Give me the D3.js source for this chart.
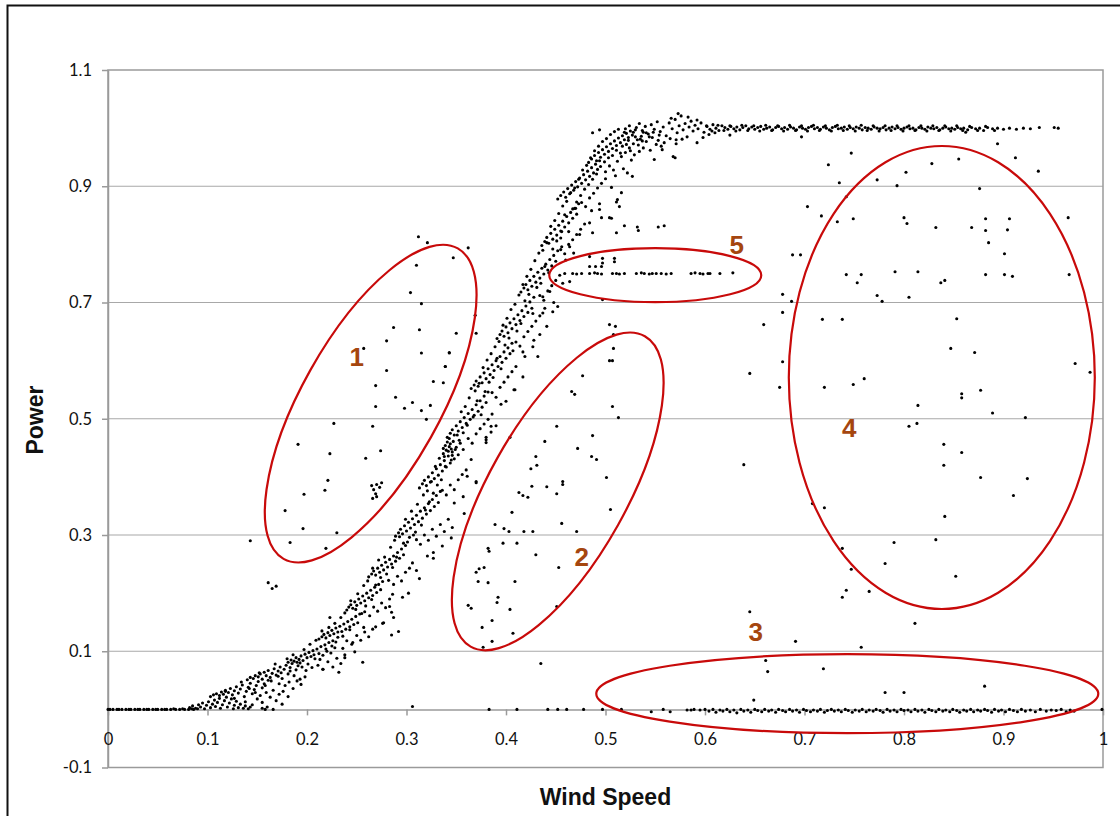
<!DOCTYPE html>
<html>
<head>
<meta charset="utf-8">
<script src="https://cdn.jsdelivr.net/npm/d3@7"></script>
<style>
  body { margin: 0; background: #fff; }
</style>
</head>
<body>
<div id="vis"></div>
<script>
const FRAME_WIDTH = 1120;
const FRAME_HEIGHT = 816;
const PLOT = {left: 108, right: 1103, top: 70, bottom: 767.5};

// tick values
const xTicks = [0, 0.1, 0.2, 0.3, 0.4, 0.5, 0.6, 0.7, 0.8, 0.9, 1];
const yTicks = [-0.1, 0.1, 0.3, 0.5, 0.7, 0.9, 1.1];

// [wind speed, power]
const zeroLeft = [[0,0],[0.002,0],[0.005,0],[0.009,0],[0.011,0],[0.014,0],[0.018,0],[0.021,0],[0.023,0],[0.027,0],[0.03,0],[0.032,0],[0.036,0],[0.039,0],[0.041,0],[0.045,0],[0.048,0],[0.05,0],[0.054,0],[0.057,0],[0.059,0],[0.063,0],[0.066,0.001],[0.068,0],[0.072,0],[0.075,0.001],[0.077,0],[0.081,0],[0.084,0.001],[0.086,0],[0.09,0.001]];

const rampLow = [
  [0.082,0.003],[0.085,0.006],[0.088,0.002],[0.091,0.008],[0.093,0.004],[0.095,0.011],[0.097,0.001],[0.099,0.007],[0.101,0.013],[0.103,0.003],[0.105,0.009],[0.107,0.016],[0.108,0.005],[0.11,0.012],[0.112,0.019],[0.113,0.002],[0.115,0.008],[0.117,0.015],[0.119,0.021],[0.12,0.004],[0.122,0.011],[0.124,0.018],[0.126,0.001],[0.127,0.007],[0.129,0.014],[0.131,0.003],[0.133,0.009],[0.136,0.002],[0.138,0.006],[0.141,0.001],[0.143,0.004],
  [0.103,0.022],[0.106,0.025],[0.109,0.027],[0.112,0.024],[0.114,0.03],[0.116,0.026],[0.118,0.033],[0.121,0.029],[0.123,0.036],[0.125,0.025],[0.127,0.032],[0.129,0.039],[0.131,0.028],[0.133,0.035],[0.135,0.042],[0.137,0.022],[0.139,0.031],[0.141,0.038],[0.143,0.045],[0.145,0.027],[0.147,0.034],[0.149,0.041],[0.151,0.048],[0.153,0.024],[0.155,0.037],[0.157,0.044],[0.159,0.029],[0.161,0.05],[0.163,0.021],[0.166,0.033],[0.169,0.015],[0.172,0.026],[0.155,0.012],[0.16,0.004],[0.138,0.013],[0.145,0.008],[0.15,0.018],
  [0.14,0.051],[0.143,0.055],[0.146,0.053],[0.148,0.058],[0.151,0.056],[0.153,0.061],[0.155,0.052],[0.157,0.064],[0.159,0.058],[0.161,0.067],[0.163,0.055],[0.165,0.062],[0.167,0.07],[0.169,0.059],[0.171,0.066],[0.173,0.073],[0.175,0.053],[0.177,0.069],[0.179,0.076],[0.181,0.061],[0.183,0.072],[0.185,0.079],[0.187,0.058],[0.189,0.068],[0.191,0.075],[0.193,0.08],[0.178,0.041],[0.182,0.047],[0.186,0.036],[0.19,0.049],[0.194,0.043],[0.198,0.056],[0.172,0.044],[0.176,0.031],[0.181,0.022],
  [0.181,0.081],[0.184,0.085],[0.187,0.083],[0.189,0.089],[0.192,0.086],[0.194,0.092],[0.196,0.084],[0.198,0.095],[0.2,0.089],[0.202,0.098],[0.204,0.091],[0.206,0.101],[0.208,0.087],[0.21,0.104],[0.212,0.096],[0.214,0.108],[0.216,0.093],[0.218,0.111],[0.22,0.1],[0.222,0.115],[0.224,0.097],[0.226,0.118],[0.228,0.106],[0.211,0.076],[0.216,0.069],[0.221,0.082],[0.226,0.073],[0.23,0.088],[0.234,0.079],[0.238,0.094],[0.205,0.072],[0.199,0.067],[0.232,0.064]
];

const rampMid = [
  [0.212,0.121],[0.215,0.125],[0.217,0.129],[0.219,0.123],[0.221,0.132],[0.223,0.127],[0.225,0.136],[0.227,0.13],[0.229,0.14],[0.231,0.124],[0.233,0.143],[0.235,0.134],[0.237,0.147],[0.239,0.138],[0.241,0.151],[0.243,0.142],[0.245,0.155],[0.247,0.146],[0.249,0.16],[0.251,0.149],[0.253,0.164],[0.24,0.118],[0.245,0.112],[0.25,0.127],[0.254,0.119],[0.258,0.133],[0.262,0.125],[0.236,0.105],[0.248,0.099],[0.229,0.116],
  [0.24,0.171],[0.242,0.176],[0.244,0.18],[0.246,0.174],[0.248,0.185],[0.25,0.179],[0.252,0.19],[0.254,0.183],[0.256,0.195],[0.258,0.187],[0.26,0.2],[0.262,0.192],[0.264,0.205],[0.266,0.196],[0.268,0.21],[0.27,0.201],[0.272,0.215],[0.274,0.206],[0.276,0.22],[0.258,0.168],[0.263,0.161],[0.267,0.176],[0.271,0.169],[0.275,0.183],[0.279,0.175],[0.283,0.19],[0.287,0.158],[0.277,0.149],[0.269,0.142],[0.285,0.128],[0.292,0.134],
  [0.262,0.228],[0.265,0.233],[0.267,0.238],[0.269,0.231],[0.271,0.243],[0.273,0.236],[0.275,0.248],[0.277,0.24],[0.279,0.253],[0.281,0.245],[0.283,0.258],[0.285,0.25],[0.287,0.264],[0.289,0.255],[0.291,0.27],[0.293,0.26],[0.295,0.276],[0.297,0.266],[0.299,0.282],[0.282,0.222],[0.287,0.215],[0.291,0.229],[0.295,0.221],[0.299,0.236],[0.303,0.243],[0.306,0.252],[0.31,0.239],[0.302,0.2],[0.296,0.193],[0.313,0.225],
  [0.289,0.298],[0.292,0.304],[0.294,0.31],[0.296,0.302],[0.298,0.316],[0.3,0.307],[0.302,0.322],[0.304,0.312],[0.306,0.328],[0.308,0.318],[0.31,0.334],[0.312,0.323],[0.314,0.341],[0.316,0.329],[0.318,0.347],[0.32,0.336],[0.322,0.354],[0.324,0.342],[0.326,0.361],[0.328,0.349],[0.33,0.368],[0.332,0.356],[0.334,0.375],[0.31,0.292],[0.314,0.284],[0.318,0.3],[0.322,0.291],[0.326,0.31],[0.33,0.298],[0.334,0.318],[0.338,0.306],[0.342,0.327],[0.327,0.27],[0.336,0.281],[0.345,0.295],[0.321,0.264],[0.301,0.288],[0.307,0.3],
  [0.313,0.381],[0.316,0.388],[0.318,0.394],[0.32,0.385],[0.322,0.4],[0.324,0.391],[0.326,0.407],[0.328,0.397],[0.33,0.414],[0.332,0.403],[0.334,0.421],[0.336,0.41],[0.338,0.428],[0.34,0.417],[0.342,0.436],[0.344,0.424],[0.346,0.443],[0.348,0.431],[0.35,0.451],[0.352,0.438],[0.354,0.458],[0.336,0.377],[0.34,0.369],[0.344,0.386],[0.348,0.378],[0.352,0.395],[0.356,0.404],[0.36,0.412],[0.348,0.355],[0.357,0.366],[0.34,0.446],[0.337,0.44],[0.343,0.452],[0.345,0.448],[0.341,0.46],[0.339,0.454],[0.342,0.444],[0.344,0.457],[0.346,0.437],[0.338,0.435],
  [0.341,0.468],[0.344,0.475],[0.346,0.481],[0.348,0.472],[0.35,0.488],[0.352,0.479],[0.354,0.495],[0.356,0.485],[0.358,0.502],[0.36,0.492],[0.362,0.509],[0.364,0.499],[0.366,0.516],[0.368,0.506],[0.37,0.524],[0.372,0.513],[0.374,0.531],[0.376,0.52],[0.378,0.539],[0.38,0.528],[0.382,0.546],[0.362,0.466],[0.366,0.458],[0.37,0.474],[0.374,0.483],[0.378,0.491],[0.382,0.499],[0.386,0.508],[0.357,0.447],[0.365,0.43],[0.385,0.477],[0.39,0.488]
];

const rampHigh = [
  [0.365,0.552],[0.368,0.558],[0.37,0.565],[0.372,0.556],[0.374,0.572],[0.376,0.562],[0.378,0.579],[0.38,0.569],[0.382,0.586],[0.384,0.576],[0.386,0.593],[0.388,0.583],[0.39,0.6],[0.392,0.59],[0.394,0.607],[0.396,0.597],[0.398,0.615],[0.4,0.604],[0.402,0.622],[0.404,0.612],[0.406,0.63],[0.386,0.545],[0.39,0.537],[0.394,0.554],[0.398,0.563],[0.402,0.572],[0.406,0.581],[0.41,0.59],[0.395,0.525],[0.408,0.55],
  [0.391,0.638],[0.394,0.645],[0.396,0.651],[0.398,0.642],[0.4,0.658],[0.402,0.648],[0.404,0.665],[0.406,0.655],[0.408,0.672],[0.41,0.662],[0.412,0.679],[0.414,0.669],[0.416,0.686],[0.418,0.676],[0.42,0.694],[0.422,0.683],[0.424,0.701],[0.426,0.69],[0.428,0.709],[0.41,0.632],[0.414,0.625],[0.418,0.641],[0.422,0.65],[0.426,0.659],[0.43,0.668],[0.434,0.677],[0.417,0.615],[0.428,0.635],
  [0.415,0.718],[0.418,0.725],[0.42,0.731],[0.422,0.722],[0.424,0.738],[0.426,0.728],[0.428,0.745],[0.43,0.735],[0.432,0.752],[0.434,0.742],[0.436,0.759],[0.438,0.749],[0.44,0.766],[0.442,0.756],[0.444,0.774],[0.446,0.763],[0.448,0.781],[0.45,0.771],[0.452,0.789],[0.434,0.712],[0.438,0.704],[0.442,0.72],[0.446,0.729],[0.45,0.738],[0.454,0.747],[0.439,0.69],[0.448,0.7],
  [0.436,0.798],[0.439,0.805],[0.441,0.812],[0.443,0.802],[0.445,0.819],[0.447,0.809],[0.449,0.826],[0.451,0.816],[0.453,0.833],[0.455,0.823],[0.457,0.84],[0.459,0.83],[0.461,0.848],[0.463,0.837],[0.465,0.855],[0.467,0.845],[0.469,0.862],[0.471,0.852],[0.473,0.87],[0.455,0.791],[0.459,0.784],[0.463,0.8],[0.467,0.808],[0.471,0.817],[0.475,0.826],[0.479,0.835],[0.46,0.773],[0.468,0.785],
  [0.452,0.878],[0.455,0.884],[0.458,0.89],[0.46,0.881],[0.462,0.896],[0.464,0.887],[0.466,0.902],[0.468,0.893],[0.47,0.908],[0.472,0.899],[0.474,0.914],[0.476,0.905],[0.478,0.92],[0.48,0.911],[0.482,0.926],[0.484,0.917],[0.486,0.932],[0.488,0.923],[0.49,0.938],[0.492,0.929],[0.494,0.944],[0.476,0.872],[0.48,0.865],[0.484,0.88],[0.488,0.888],[0.492,0.897],[0.496,0.905],[0.5,0.913],[0.486,0.858],[0.494,0.87],[0.47,0.862],
  [0.483,0.941],[0.486,0.947],[0.489,0.953],[0.491,0.944],[0.493,0.958],[0.495,0.95],[0.497,0.963],[0.499,0.955],[0.501,0.968],[0.503,0.96],[0.505,0.973],[0.507,0.965],[0.509,0.978],[0.511,0.97],[0.513,0.983],[0.515,0.975],[0.517,0.987],[0.519,0.98],[0.521,0.991],[0.523,0.984],[0.525,0.995],[0.527,0.988],[0.504,0.935],[0.508,0.928],[0.512,0.943],[0.516,0.951],[0.52,0.958],[0.524,0.966],[0.528,0.973],[0.532,0.98],[0.536,0.986],[0.51,0.918],[0.518,0.93],[0.526,0.945],[0.534,0.96],[0.5,0.925],[0.487,0.992],[0.494,0.997],[0.53,0.997],[0.538,0.993]
];

// more points in the band, between the rows above
const rampExtra = [[0.118,0.031],[0.127,0.019],[0.134,0.047],[0.142,0.036],[0.148,0.029],[0.152,0.063],[0.158,0.041],[0.164,0.049],[0.168,0.078],[0.171,0.057],[0.174,0.063],[0.18,0.087],[0.183,0.066],[0.186,0.094],[0.19,0.081],[0.195,0.073],[0.197,0.103],[0.201,0.078],[0.203,0.112],[0.207,0.094],[0.209,0.119],[0.213,0.086],[0.215,0.135],[0.219,0.104],[0.222,0.141],[0.225,0.109],[0.228,0.148],[0.231,0.133],[0.234,0.158],[0.236,0.126],[0.238,0.166],[0.243,0.137],[0.244,0.187],[0.249,0.172],[0.251,0.199],[0.255,0.165],[0.257,0.213],[0.259,0.178],[0.261,0.221],[0.265,0.189],[0.266,0.243],[0.269,0.214],[0.272,0.257],[0.274,0.227],[0.278,0.262],[0.28,0.233],[0.284,0.279],[0.286,0.244],[0.288,0.291],[0.29,0.262],[0.293,0.297],[0.297,0.286],[0.299,0.327],[0.303,0.296],[0.305,0.341],[0.309,0.305],[0.311,0.353],[0.315,0.317],[0.317,0.369],[0.319,0.343],[0.321,0.376],[0.323,0.357],[0.325,0.392],[0.327,0.372],[0.329,0.418],[0.331,0.386],[0.333,0.432],[0.335,0.395],[0.337,0.449],[0.339,0.418],[0.343,0.466],[0.345,0.429],[0.347,0.461],[0.349,0.447],[0.351,0.472],[0.353,0.463],[0.355,0.512],[0.357,0.476],[0.359,0.521],[0.361,0.489],[0.363,0.536],[0.367,0.503],[0.369,0.548],[0.371,0.531],[0.373,0.561],[0.375,0.507],[0.377,0.588],[0.379,0.547],[0.381,0.601],[0.383,0.563],[0.385,0.612],[0.387,0.571],[0.389,0.624],[0.391,0.604],[0.393,0.633],[0.395,0.586],[0.397,0.661],[0.399,0.627],[0.401,0.673],[0.403,0.639],[0.405,0.688],[0.407,0.617],[0.409,0.697],[0.411,0.651],[0.413,0.713],[0.415,0.664],[0.417,0.731],[0.419,0.703],[0.421,0.745],[0.423,0.714],[0.425,0.757],[0.427,0.681],[0.429,0.772],[0.431,0.726],[0.433,0.785],[0.435,0.733],[0.437,0.79],[0.439,0.762],[0.441,0.803],[0.443,0.751],[0.445,0.831],[0.447,0.792],[0.449,0.841],[0.451,0.806],[0.453,0.853],[0.455,0.811],[0.457,0.866],[0.459,0.851],[0.461,0.874],[0.463,0.822],[0.465,0.889],[0.467,0.861],[0.469,0.897],[0.471,0.873],[0.473,0.912],[0.475,0.884],[0.477,0.928],[0.479,0.895],[0.481,0.936],[0.483,0.903],[0.485,0.949],[0.487,0.912],[0.489,0.961],[0.491,0.921],[0.493,0.969],[0.495,0.934],[0.497,0.977],[0.499,0.942],[0.501,0.982],[0.503,0.949],[0.505,0.989],[0.507,0.953],[0.509,0.994],[0.511,0.962],[0.513,0.998],[0.515,0.957],[0.517,0.969],[0.519,0.993],[0.521,0.972],[0.523,0.979],[0.525,0.961],[0.529,0.954],[0.533,0.971],[0.537,0.978],[0.541,0.992],[0.544,0.985],[0.548,0.993],[0.551,0.972],[0.554,0.988]];

const plateau = [
  [0.52,0.999],[0.524,1.004],[0.528,0.993],[0.531,1.001],[0.534,1.008],[0.537,0.996],[0.54,1.003],[0.543,0.99],[0.546,1.006],[0.549,0.998],[0.552,1.011],[0.555,0.994],[0.558,1.002],[0.561,0.987],[0.564,1.009],[0.567,0.999],[0.57,1.015],[0.572,0.992],[0.574,1.004],[0.576,1.021],[0.578,0.997],[0.58,1.008],[0.582,0.985],[0.584,1.002],[0.586,1.012],[0.588,0.995],[0.59,1.005],[0.593,0.999],[0.596,1.009],[0.599,0.993],[0.602,1.003],[0.605,0.998],[0.608,1.006],[0.611,1.0],[0.614,0.996],[0.617,1.004],[0.62,1.001],[0.623,0.998],[0.626,1.003],[0.629,0.999],[0.632,1.002],[0.635,0.997],[0.638,1.001],[0.641,1.004],[0.644,0.999],[0.647,1.002],[0.65,0.998],[0.653,1.001],[0.656,1.003],[0.659,0.998],[0.662,1.0],[0.665,1.002],[0.668,0.997],[0.671,1.001],[0.674,1.003],[0.677,0.999],[0.68,1.001],[0.683,0.998],[0.686,1.002],[0.689,1.0],[0.692,0.997],[0.695,1.002],[0.698,1.0],[0.701,0.998],[0.704,1.001],[0.707,1.003],[0.71,0.999],[0.713,1.001],[0.716,0.998],[0.719,1.002],[0.722,1.0],[0.725,0.997],[0.728,1.001],[0.731,1.003],[0.734,0.999],[0.737,1.0],[0.74,1.002],[0.743,0.998],[0.746,1.001],[0.749,0.999],[0.752,1.002],[0.755,1.0],[0.758,0.997],[0.761,1.001],[0.764,1.0],[0.767,0.998],[0.77,1.002],[0.773,1.0],[0.776,0.999],[0.779,1.001],[0.782,0.997],[0.785,1.0],[0.788,1.002],[0.791,0.999],[0.794,1.001],[0.797,0.998],[0.8,1.0],[0.803,1.002],[0.806,0.999],[0.809,1.0],[0.812,0.997],[0.815,1.001],[0.818,1.0],[0.821,0.998],[0.824,1.002],[0.827,1.0],[0.83,0.999],[0.833,1.001],[0.836,0.997],[0.839,1.0],[0.842,1.002],[0.845,0.999],[0.848,1.0],[0.851,0.998],[0.854,1.001],[0.857,0.999],[0.86,1.0],[0.864,0.997],[0.868,1.001],[0.872,0.999],[0.876,1.0],[0.88,0.996],[0.884,1.001],[0.889,0.999],[0.894,1.0],[0.9,0.998],[0.906,1.0],[0.913,0.998],[0.92,1.0],[0.927,0.999],[0.936,1.001],[0.951,1.001],[0.955,1.0],
  [0.53,0.985],[0.535,0.981],[0.541,0.977],[0.547,0.984],[0.553,0.979],[0.559,0.975],[0.565,0.982],[0.571,0.973],[0.577,0.981],[0.583,1.019],[0.573,1.025],[0.566,1.017],[0.592,1.014],[0.598,0.984],[0.604,0.989],[0.61,0.992],[0.556,0.969],[0.545,0.962],[0.538,0.966],
  [0.6015,1.004],[0.607,0.995],[0.613,1.005],[0.619,0.996],[0.625,1.004],[0.631,0.995],[0.637,1.005],[0.643,0.996],[0.649,1.004],[0.655,0.995],[0.661,1.005],[0.667,0.996],[0.673,1.004],[0.679,0.995],[0.685,1.005],[0.691,0.996],[0.697,1.004],[0.703,0.995],[0.709,1.005],[0.715,0.996],[0.721,1.004],[0.727,0.995],[0.733,1.005],[0.739,0.996],[0.745,1.004],[0.751,0.995],[0.757,1.005],[0.763,0.996],[0.769,1.004],[0.775,0.995],[0.781,1.004],[0.787,0.996],[0.793,1.004],[0.799,0.995],[0.805,1.004],[0.811,0.996],[0.817,1.004],[0.823,0.995],[0.829,1.004],[0.835,0.996],[0.841,1.004],[0.847,0.995],[0.853,1.004],[0.859,0.996],[0.866,1.003],[0.874,0.996],[0.882,1.003],[0.891,0.996]
];

const zeroRight = [[0.383,0],[0.411,0],[0.442,0],[0.452,0],[0.461,0],[0.478,0],[0.497,0],[0.516,0],[0.546,-0.004],[0.558,0],[0.565,-0.004],[0.582,-0.001],[0.586,-0.001],[0.589,0],[0.595,-0.001],[0.6,0],[0.604,-0.003],[0.608,0],[0.611,-0.005],[0.615,-0.001],[0.618,-0.003],[0.622,0],[0.625,-0.004],[0.629,-0.001],[0.632,-0.006],[0.636,0],[0.639,-0.003],[0.643,-0.001],[0.646,-0.005],[0.65,0],[0.653,-0.002],[0.657,-0.004],[0.66,0],[0.664,-0.003],[0.667,-0.001],[0.671,-0.005],[0.674,0],[0.678,-0.002],[0.681,-0.004],[0.685,0],[0.688,-0.003],[0.692,-0.001],[0.695,-0.005],[0.699,0],[0.702,-0.002],[0.706,-0.004],[0.709,-0.001],[0.713,-0.003],[0.716,0],[0.72,-0.005],[0.723,-0.002],[0.727,0],[0.73,-0.003],[0.734,-0.001],[0.737,-0.004],[0.741,0],[0.744,-0.002],[0.748,-0.005],[0.751,-0.001],[0.755,-0.003],[0.758,0],[0.762,-0.004],[0.765,-0.001],[0.769,-0.003],[0.772,0],[0.776,-0.002],[0.779,-0.005],[0.783,0],[0.786,-0.003],[0.79,-0.001],[0.793,-0.004],[0.797,0],[0.8,-0.002],[0.804,-0.001],[0.807,-0.004],[0.811,0],[0.814,-0.003],[0.818,-0.001],[0.821,-0.005],[0.825,0],[0.828,-0.002],[0.832,-0.004],[0.835,0],[0.839,-0.003],[0.842,-0.001],[0.846,-0.004],[0.849,0],[0.853,-0.002],[0.856,-0.005],[0.86,-0.001],[0.863,-0.003],[0.867,0],[0.87,-0.004],[0.874,-0.001],[0.877,-0.003],[0.881,0],[0.884,-0.002],[0.888,-0.005],[0.891,0],[0.895,-0.003],[0.898,-0.001],[0.902,-0.004],[0.906,0],[0.91,-0.002],[0.914,-0.004],[0.918,0],[0.922,-0.003],[0.927,-0.001],[0.932,-0.004],[0.937,0],[0.943,-0.003],[0.948,-0.001],[0.953,-0.002],[0.958,0],[0.963,-0.004],[0.967,-0.001],[0.971,-0.003],[0.999,0]];

const group1 = [[0.312,0.813],[0.321,0.803],[0.362,0.794],[0.347,0.777],[0.31,0.764],[0.304,0.717],[0.315,0.698],[0.369,0.678],[0.287,0.657],[0.313,0.653],[0.35,0.647],[0.37,0.647],[0.28,0.634],[0.257,0.621],[0.315,0.613],[0.343,0.613],[0.339,0.59],[0.28,0.583],[0.327,0.564],[0.337,0.562],[0.269,0.557],[0.289,0.537],[0.306,0.528],[0.269,0.521],[0.298,0.518],[0.324,0.523],[0.315,0.514],[0.32,0.499],[0.227,0.492],[0.266,0.487],[0.191,0.456],[0.223,0.44],[0.274,0.445],[0.259,0.432],[0.221,0.394],[0.218,0.377],[0.197,0.37],[0.265,0.385],[0.27,0.387],[0.267,0.378],[0.273,0.382],[0.269,0.371],[0.27,0.366],[0.266,0.363],[0.275,0.39],[0.178,0.342],[0.196,0.311],[0.23,0.304],[0.183,0.287],[0.219,0.277],[0.143,0.29]];

const group2 = [[0.504,0.662],[0.51,0.659],[0.508,0.645],[0.508,0.621],[0.504,0.6],[0.507,0.6],[0.477,0.574],[0.466,0.547],[0.469,0.542],[0.507,0.521],[0.513,0.502],[0.451,0.487],[0.487,0.471],[0.439,0.461],[0.472,0.449],[0.43,0.435],[0.431,0.42],[0.425,0.414],[0.486,0.435],[0.491,0.43],[0.501,0.399],[0.457,0.392],[0.457,0.387],[0.426,0.384],[0.441,0.383],[0.451,0.371],[0.413,0.373],[0.417,0.368],[0.422,0.365],[0.505,0.344],[0.406,0.339],[0.389,0.318],[0.456,0.32],[0.398,0.311],[0.403,0.306],[0.418,0.306],[0.427,0.306],[0.471,0.306],[0.397,0.286],[0.411,0.286],[0.382,0.277],[0.383,0.272],[0.43,0.266],[0.453,0.244],[0.373,0.242],[0.378,0.244],[0.37,0.236],[0.372,0.22],[0.382,0.218],[0.409,0.22],[0.392,0.193],[0.391,0.184],[0.362,0.179],[0.365,0.174],[0.404,0.172],[0.451,0.177],[0.386,0.153],[0.376,0.141],[0.407,0.131],[0.386,0.117],[0.377,0.107]];

const group3 = [[0.645,0.168],[0.811,0.148],[0.691,0.117],[0.757,0.107],[0.661,0.084],[0.663,0.065],[0.719,0.07],[0.781,0.029],[0.8,0.029],[0.881,0.04],[0.649,0.016]];

const group4 = [[0.697,0.985],[0.747,0.957],[0.894,0.973],[0.855,0.947],[0.828,0.939],[0.724,0.937],[0.912,0.949],[0.935,0.926],[0.802,0.924],[0.773,0.911],[0.735,0.906],[0.793,0.901],[0.876,0.896],[0.742,0.882],[0.703,0.865],[0.717,0.849],[0.733,0.839],[0.749,0.844],[0.8,0.846],[0.803,0.836],[0.832,0.829],[0.868,0.829],[0.882,0.844],[0.882,0.824],[0.906,0.844],[0.904,0.825],[0.885,0.803],[0.901,0.784],[0.965,0.846],[0.688,0.782],[0.696,0.782],[0.742,0.748],[0.757,0.748],[0.753,0.734],[0.791,0.753],[0.814,0.753],[0.837,0.734],[0.841,0.738],[0.882,0.748],[0.901,0.748],[0.909,0.745],[0.966,0.748],[0.678,0.714],[0.687,0.702],[0.773,0.712],[0.778,0.702],[0.805,0.709],[0.678,0.683],[0.659,0.662],[0.718,0.671],[0.738,0.671],[0.853,0.672],[0.847,0.621],[0.871,0.614],[0.678,0.598],[0.972,0.595],[0.987,0.58],[0.645,0.578],[0.675,0.554],[0.72,0.554],[0.749,0.559],[0.76,0.569],[0.858,0.543],[0.858,0.536],[0.877,0.549],[0.814,0.523],[0.889,0.51],[0.922,0.502],[0.805,0.487],[0.813,0.492],[0.84,0.456],[0.858,0.442],[0.84,0.42],[0.877,0.399],[0.924,0.397],[0.91,0.368],[0.708,0.354],[0.72,0.347],[0.841,0.332],[0.832,0.292],[0.79,0.287],[0.738,0.277],[0.781,0.251],[0.747,0.241],[0.852,0.229],[0.742,0.205],[0.765,0.203],[0.738,0.193],[0.862,0.993],[0.639,0.421]];

const group5 = [[0.459,0.75],[0.467,0.75],[0.471,0.749],[0.476,0.75],[0.484,0.75],[0.489,0.751],[0.492,0.75],[0.496,0.749],[0.507,0.75],[0.511,0.75],[0.514,0.749],[0.519,0.75],[0.531,0.75],[0.536,0.751],[0.539,0.75],[0.544,0.749],[0.547,0.75],[0.551,0.75],[0.556,0.75],[0.561,0.749],[0.566,0.75],[0.586,0.75],[0.59,0.751],[0.595,0.75],[0.598,0.749],[0.603,0.75],[0.605,0.75],[0.615,0.75],[0.628,0.751],[0.484,0.762],[0.49,0.762],[0.496,0.762],[0.497,0.768],[0.509,0.77],[0.497,0.776],[0.509,0.776]];

const strays = [[0.161,0.218],[0.165,0.208],[0.169,0.212],[0.256,0.081],[0.238,0.089],[0.216,0.069],[0.193,0.052],[0.175,0.009],[0.166,0],[0.158,0],[0.155,0.002],[0.283,0.177],[0.286,0.198],[0.276,0.148],[0.285,0.167],[0.266,0.138],[0.257,0.141],[0.246,0.115],[0.223,0.158],
  [0.417,0.572],[0.409,0.55],[0.4,0.53],[0.38,0.464],[0.37,0.392],[0.361,0.401],[0.432,0.607],[0.419,0.607],[0.441,0.659],[0.437,0.682],[0.434,0.645],[0.427,0.624],
  [0.343,0.614],[0.339,0.59],[0.385,0.487],[0.38,0.468],[0.38,0.459],[0.37,0.39],[0.358,0.337],[0.346,0.313],[0.327,0.26],[0.404,0.468],
  [0.474,0.817],[0.487,0.82],[0.484,0.837],[0.511,0.82],[0.496,0.846],[0.504,0.846],[0.511,0.873],[0.516,0.889],[0.494,0.86],[0.456,0.822],[0.519,0.832],[0.532,0.83],[0.533,0.824],[0.553,0.83],[0.559,0.832],[0.506,0.845],[0.512,0.877],[0.514,0.865],[0.506,0.898],[0.522,0.923],[0.464,0.796],[0.456,0.796],[0.484,0.779],
  [0.527,0.917],[0.557,0.963],[0.568,0.951],[0.57,0.949],[0.592,0.975],[0.625,0.988],[0.549,0.946],[0.571,0.98],
  [0.464,0.736],[0.457,0.733],[0.452,0.693],[0.447,0.684],[0.437,0.71],[0.444,0.719],[0.497,0.705],
  [0.435,0.079],[0.306,0.005]];

// circled regions: centre in data units, numbered label in data units
const regionNames = ["1", "2", "3", "4", "5"];
const regionCentres = [[0.264,0.526],[0.452,0.375],[0.743,0.027],[0.838,0.571],[0.55,0.747]];
const regionLabelAt = [[0.25,0.606],[0.476,0.262],[0.651,0.133],[0.745,0.484],[0.632,0.799]];
// ellipse shape in pixels: rx, ry, rotation
const regionShape = [[178,69,-60.7],[178,69,-60.7],[251,39.5,0],[153,231.5,0],[106,27,0]];

const allPoints = [].concat(zeroLeft, rampLow, rampMid, rampHigh, rampExtra, plateau, zeroRight,
  group1, group2, group3, group4, group5, strays);

const svg = d3.select("#vis")
  .append("svg")
    .attr("width", FRAME_WIDTH)
    .attr("height", FRAME_HEIGHT)
    .style("display", "block");

const x = d3.scaleLinear().domain([0, 1]).range([PLOT.left, PLOT.right]);
const y = d3.scaleLinear().domain([-0.1, 1.1]).range([PLOT.bottom, PLOT.top]);
const fmt = d => String(+d.toFixed(1));

// outer chart frame (runs off the right and bottom of the picture)
svg.append("rect")
  .attr("x", 7.5).attr("y", 5.5)
  .attr("width", 1300).attr("height", 1000)
  .attr("fill", "none")
  .attr("stroke", "#111")
  .attr("stroke-width", 2);

// gridlines
svg.append("g")
  .selectAll("line")
  .data(yTicks.filter(d => d > 0 && d < 1.1))
  .join("line")
    .attr("x1", PLOT.left).attr("x2", PLOT.right)
    .attr("y1", d => y(d)).attr("y2", d => y(d))
    .attr("stroke", "#a8a8a8")
    .attr("stroke-width", 1.2);

// plot area border
svg.append("rect")
  .attr("x", PLOT.left).attr("y", PLOT.top)
  .attr("width", PLOT.right - PLOT.left)
  .attr("height", PLOT.bottom - PLOT.top)
  .attr("fill", "none")
  .attr("stroke", "#9a9a9a")
  .attr("stroke-width", 1.5);

// y axis
const yAxis = svg.append("g")
  .attr("transform", `translate(${PLOT.left},0)`)
  .call(d3.axisLeft(y).tickValues(yTicks).tickSize(6).tickSizeOuter(0).tickPadding(10).tickFormat(fmt));

// x axis sits on power = 0
const xAxis = svg.append("g")
  .attr("transform", `translate(0,${y(0)})`)
  .call(d3.axisBottom(x).tickValues(xTicks).tickSize(6).tickSizeOuter(0).tickPadding(18).tickFormat(fmt));

[yAxis, xAxis].forEach(g => {
  g.select(".domain").attr("stroke", "#9a9a9a").attr("stroke-width", 1.5);
  g.selectAll(".tick line").attr("stroke", "#9a9a9a").attr("stroke-width", 1.5);
  g.selectAll(".tick text")
    .attr("fill", "#111")
    .style("font-family", "Lato, 'Open Sans', sans-serif")
    .style("font-size", "16.5px");
});

// points
svg.append("g")
  .selectAll("circle")
  .data(allPoints)
  .join("circle")
    .attr("cx", d => x(d[0]))
    .attr("cy", d => y(d[1]))
    .attr("r", 1.55)
    .attr("fill", "#000");

// circled regions
svg.append("g")
  .selectAll("ellipse")
  .data(regionCentres)
  .join("ellipse")
    .attr("transform", (d, i) => `translate(${x(d[0])},${y(d[1])}) rotate(${regionShape[i][2]})`)
    .attr("rx", (d, i) => regionShape[i][0])
    .attr("ry", (d, i) => regionShape[i][1])
    .attr("fill", "none")
    .attr("stroke", "#c80a0a")
    .attr("stroke-width", 2.2);

svg.append("g")
  .selectAll("text")
  .data(regionLabelAt)
  .join("text")
    .attr("x", d => x(d[0]))
    .attr("y", d => y(d[1]))
    .attr("text-anchor", "middle")
    .attr("dominant-baseline", "central")
    .attr("fill", "#a5460f")
    .style("font-family", "'Liberation Sans', Arial, sans-serif")
    .style("font-weight", "bold")
    .style("font-size", "26px")
    .text((d, i) => regionNames[i]);

// axis titles
svg.append("text")
  .attr("x", (PLOT.left + PLOT.right) / 2)
  .attr("y", 805)
  .attr("text-anchor", "middle")
  .style("font-family", "'Liberation Sans', Arial, sans-serif")
  .style("font-weight", "bold")
  .style("font-size", "23px")
  .attr("fill", "#111")
  .text("Wind Speed");

svg.append("text")
  .attr("transform", "translate(43,420) rotate(-90)")
  .attr("text-anchor", "middle")
  .style("font-family", "'Liberation Sans', Arial, sans-serif")
  .style("font-weight", "bold")
  .style("font-size", "23px")
  .attr("fill", "#111")
  .text("Power");
</script>
</body>
</html>
